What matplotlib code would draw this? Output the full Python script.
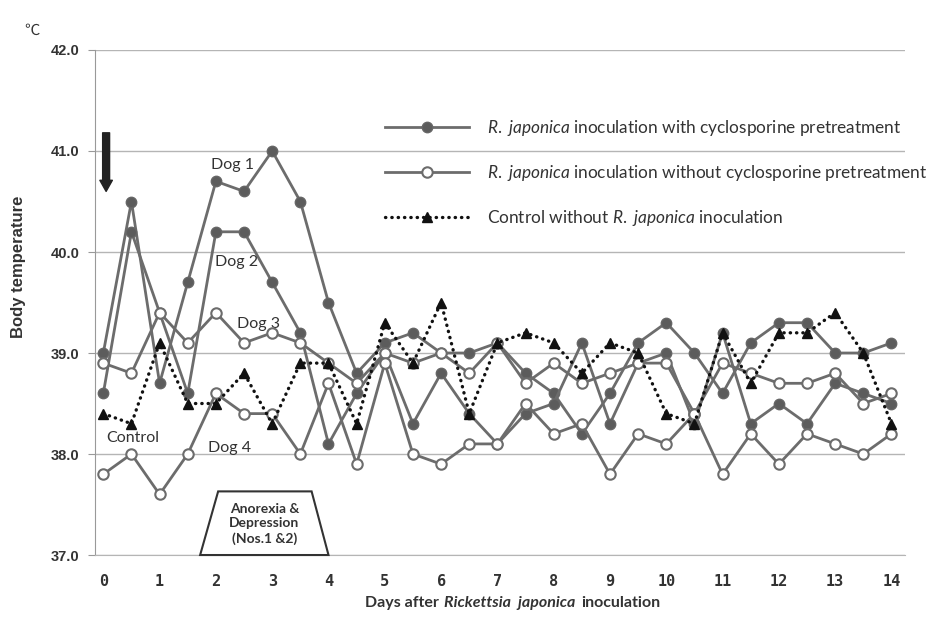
import matplotlib
matplotlib.use("Agg")
import matplotlib.pyplot as plt
import numpy as np
from matplotlib.lines import Line2D
from matplotlib.patches import Polygon
from matplotlib.offsetbox import TextArea, HPacker, AnchoredOffsetbox


# half-day readings, day 0 .. day 14
days = np.arange(29) * 0.5
dog1 = [39.0, 40.5, 38.7, 39.7, 40.7, 40.6, 41.0, 40.5, 39.5, 38.8,
        39.1, 39.2, 39.0, 39.0, 39.1, 38.8, 38.6, 38.2, 38.6, 39.1,
        39.3, 39.0, 38.6, 39.1, 39.3, 39.3, 39.0, 39.0, 39.1]
dog2 = [38.6, 40.2, 39.4, 38.6, 40.2, 40.2, 39.7, 39.2, 38.1, 38.6,
        39.0, 38.3, 38.8, 38.4, 38.1, 38.4, 38.5, 39.1, 38.3, 38.9,
        39.0, 38.3, 39.2, 38.3, 38.5, 38.3, 38.7, 38.6, 38.5]
dog3 = [38.9, 38.8, 39.4, 39.1, 39.4, 39.1, 39.2, 39.1, 38.9, 38.7,
        39.0, 38.9, 39.0, 38.8, 39.1, 38.7, 38.9, 38.7, 38.8, 38.9,
        38.9, 38.4, 38.9, 38.8, 38.7, 38.7, 38.8, 38.5, 38.6]
dog4 = [37.8, 38.0, 37.6, 38.0, 38.6, 38.4, 38.4, 38.0, 38.7, 37.9,
        38.9, 38.0, 37.9, 38.1, 38.1, 38.5, 38.2, 38.3, 37.8, 38.2,
        38.1, 38.4, 37.8, 38.2, 37.9, 38.2, 38.1, 38.0, 38.2]
control = [38.4, 38.3, 39.1, 38.5, 38.5, 38.8, 38.3, 38.9, 38.9, 38.3,
           39.3, 38.9, 39.5, 38.4, 39.1, 39.2, 39.1, 38.8, 39.1, 39.0,
           38.4, 38.3, 39.2, 38.7, 39.2, 39.2, 39.4, 39.0, 38.3]

day_ticks = list(range(15))
temp_ticks = [37.0, 38.0, 39.0, 40.0, 41.0, 42.0]

legend_labels = [
    r"$\it{R.\ japonica}$ inoculation with cyclosporine pretreatment",
    r"$\it{R.\ japonica}$ inoculation without cyclosporine pretreatment",
    r"Control without $\it{R.\ japonica}$ inoculation",
]

plt.rcParams["font.family"] = ["Lato", "DejaVu Sans"]
plt.rcParams["mathtext.fontset"] = "custom"
plt.rcParams["mathtext.rm"] = "Lato"
plt.rcParams["mathtext.it"] = "Lato:italic"
plt.rcParams["mathtext.bf"] = "Lato:bold"

LINE = "#6c6c6c"
TXT = "#333333"

filled_style = dict(color=LINE, lw=2, marker="o", ms=7.5, mfc="#5c5c5c", mec="#666666", mew=1)
open_style = dict(color=LINE, lw=2, marker="o", ms=7.5, mfc="white", mec=LINE, mew=1.5)
ctrl_style = dict(color="#111111", lw=2.4, ls=(0, (0.1, 1.8)), dash_capstyle="round",
                  marker="^", ms=7, mfc="#111111", mec="#111111")


def main():
    fig = plt.figure(figsize=(9.28, 6.32), dpi=100)
    ax = fig.add_axes([0.1024, 0.1218, 0.8728, 0.7991])

    ax.plot(days, dog1, zorder=3, **filled_style)
    ax.plot(days, dog2, zorder=3, **filled_style)
    ax.plot(days, dog3, zorder=4, **open_style)
    ax.plot(days, dog4, zorder=4, **open_style)
    ax.plot(days, control, zorder=5, **ctrl_style)

    ax.set_xlim(-0.147, 14.24)
    ax.set_ylim(37.0, 42.0)

    ax.set_yticks(temp_ticks)
    ax.set_yticklabels([f"{t:.1f}" for t in temp_ticks], family="Liberation Sans",
                       fontweight="bold", fontsize=10.5, color=TXT)
    ax.set_xticks(day_ticks)
    ax.set_xticklabels([str(d) for d in day_ticks], family="DejaVu Sans Mono",
                       fontweight="bold", fontsize=11, color=TXT)
    ax.tick_params(axis="x", length=0, pad=14)
    ax.tick_params(axis="y", length=5, color="#999999", pad=6)

    ax.yaxis.grid(True, color="#b5b5b5", lw=1)
    ax.set_axisbelow(True)
    for side in ["top", "right"]:
        ax.spines[side].set_visible(False)
    ax.spines["left"].set_color("#999999")
    ax.spines["bottom"].set_color("#b5b5b5")

    # legend without frame
    handles = [Line2D([], [], **filled_style), Line2D([], [], **open_style),
               Line2D([], [], **ctrl_style)]
    ax.legend(handles, legend_labels, loc="upper left", bbox_to_anchor=(0.358, 0.866),
              frameon=False, handlelength=4.9, handletextpad=1.0, labelspacing=1.45,
              fontsize=12.4, borderaxespad=0, borderpad=0, labelcolor=TXT)

    # dog labels
    lab = dict(ha="center", va="center", fontsize=11.5, color=TXT)
    ax.text(2.30, 40.86, "Dog 1", **lab)
    ax.text(2.36, 39.90, "Dog 2", **lab)
    ax.text(2.75, 39.29, "Dog 3", **lab)
    ax.text(0.53, 38.16, "Control", **lab)
    ax.text(2.25, 38.06, "Dog 4", **lab)

    # inoculation arrow
    ax.annotate("", xy=(0.05, 40.6), xytext=(0.05, 41.18),
                arrowprops=dict(arrowstyle="simple,head_length=0.4,head_width=0.45,tail_width=0.25",
                                color="#222222", mutation_scale=20, shrinkA=0, shrinkB=0))

    # anorexia box
    box = Polygon([(1.72, 37.0), (2.04, 37.63), (3.70, 37.63), (4.0, 37.0)], closed=True,
                  facecolor="white", edgecolor="#333333", lw=1.5, zorder=6, clip_on=False)
    ax.add_patch(box)
    ax.text(2.86, 37.31, "Anorexia &\nDepression\n(Nos.1 &2)", ha="center", va="center",
            fontsize=10, fontweight="bold", color=TXT, linespacing=1.25, zorder=7)

    # axis titles
    fig.text(0.0194, 0.5775, "Body temperature", rotation=90, ha="center", va="center",
             family="Liberation Sans", fontweight="bold", fontsize=12, color=TXT)
    fig.text(0.0345, 0.952, "\u2103", ha="center", va="center",
             family=["Noto Sans CJK JP", "DejaVu Sans"], fontsize=11, color=TXT)

    props = dict(fontsize=11.5, fontweight="bold", color=TXT)
    parts = [TextArea("Days after", textprops=props),
             TextArea("Rickettsia  japonica", textprops=dict(props, fontstyle="italic")),
             TextArea("inoculation", textprops=props)]
    xlabel = AnchoredOffsetbox(loc="center", child=HPacker(children=parts, align="baseline", pad=0, sep=4),
                               bbox_to_anchor=(0.552, 0.046), bbox_transform=fig.transFigure,
                               frameon=False, pad=0, borderpad=0)
    ax.add_artist(xlabel)

    fig.savefig("out.png", dpi=100)
    plt.close(fig)


if __name__ == "__main__":
    main()
